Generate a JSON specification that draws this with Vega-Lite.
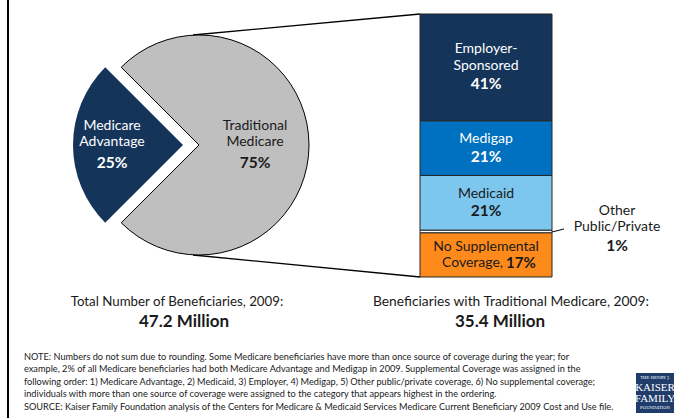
{
  "$schema": "https://vega.github.io/schema/vega-lite/v6.json",
  "width": 681,
  "height": 418,
  "padding": 0,
  "autosize": {"type": "none"},
  "background": "white",
  "config": {"view": {"stroke": null}, "font": "Lato", "text": {"font": "Lato"}},
  "data": {"values": [{}]},
  "datasets": {
    "pie": [
      {"category": "Traditional Medicare", "pct": 75, "order": 1, "line1": "Traditional", "line2": "Medicare", "pctText": "75%"},
      {"category": "Medicare Advantage", "pct": 25, "order": 2, "line1": "Medicare", "line2": "Advantage", "pctText": "25%"}
    ],
    "bar": [
      {"category": "No Supplemental Coverage", "pct": 17, "order": 1, "line1": "No Supplemental", "line2": "Coverage,", "pctText": "17%"},
      {"category": "Other Public/Private", "pct": 1, "order": 2, "line1": "Other", "line2": "Public/Private", "pctText": "1%"},
      {"category": "Medicaid", "pct": 21, "order": 3, "line1": "Medicaid", "line2": "", "pctText": "21%"},
      {"category": "Medigap", "pct": 21, "order": 4, "line1": "Medigap", "line2": "", "pctText": "21%"},
      {"category": "Employer-Sponsored", "pct": 41, "order": 5, "line1": "Employer-", "line2": "Sponsored", "pctText": "41%"}
    ]
  },
  "layer": [
    {
      "mark": {"type": "rule", "color": "#000000", "strokeWidth": 2},
      "encoding": {"x": {"datum": 8, "type": "quantitative", "scale": {"domain": [0, 681], "nice": false, "zero": false}, "axis": null}}
    },
    {
      "mark": {"type": "rule", "color": "#000000", "strokeWidth": 1.3},
      "encoding": {
        "x": {"datum": 193, "type": "quantitative", "scale": {"domain": [0, 681], "nice": false, "zero": false}, "axis": null},
        "y": {"datum": 92.93, "type": "quantitative", "scale": {"domain": [-54.15, 106.37], "nice": false, "zero": false}, "axis": null},
        "x2": {"datum": 420},
        "y2": {"datum": 101}
      }
    },
    {
      "mark": {"type": "rule", "color": "#000000", "strokeWidth": 1.3},
      "encoding": {
        "x": {"datum": 193, "type": "quantitative", "scale": {"domain": [0, 681], "nice": false, "zero": false}, "axis": null},
        "y": {"datum": 8.45, "type": "quantitative", "scale": {"domain": [-54.15, 106.37], "nice": false, "zero": false}, "axis": null},
        "x2": {"datum": 420},
        "y2": {"datum": 0}
      }
    },
    {
      "data": {"name": "pie"},
      "transform": [
        {"stack": "pct", "groupby": [], "sort": [{"field": "order", "order": "ascending"}], "as": ["t0", "t1"]},
        {"filter": "datum.category === 'Traditional Medicare'"}
      ],
      "mark": {"type": "arc", "outerRadius": 110, "fill": "#BFBFBF", "stroke": "#000000", "strokeWidth": 1},
      "encoding": {
        "x": {"datum": 199, "type": "quantitative", "scale": {"domain": [0, 681], "nice": false, "zero": false}, "axis": null},
        "y": {"datum": 50.69, "type": "quantitative", "scale": {"domain": [-54.15, 106.37], "nice": false, "zero": false}, "axis": null},
        "theta": {"field": "t0", "type": "quantitative", "scale": {"domain": [0, 100], "range": [-0.7854, 5.4978]}},
        "theta2": {"field": "t1"}
      }
    },
    {
      "data": {"name": "pie"},
      "transform": [
        {"stack": "pct", "groupby": [], "sort": [{"field": "order", "order": "ascending"}], "as": ["t0", "t1"]},
        {"filter": "datum.category === 'Medicare Advantage'"}
      ],
      "mark": {"type": "arc", "outerRadius": 110, "fill": "#14345A"},
      "encoding": {
        "x": {"datum": 183, "type": "quantitative", "scale": {"domain": [0, 681], "nice": false, "zero": false}, "axis": null},
        "y": {"datum": 50.69, "type": "quantitative", "scale": {"domain": [-54.15, 106.37], "nice": false, "zero": false}, "axis": null},
        "theta": {"field": "t0", "type": "quantitative", "scale": {"domain": [0, 100], "range": [-0.7854, 5.4978]}},
        "theta2": {"field": "t1"}
      }
    },
    {
      "data": {"name": "bar"},
      "transform": [
        {"stack": "pct", "groupby": [], "sort": [{"field": "order", "order": "ascending"}], "as": ["s0", "s1"]}
      ],
      "mark": {"type": "bar", "stroke": "#262626", "strokeWidth": 1},
      "encoding": {
        "x": {"datum": 420, "type": "quantitative", "scale": {"domain": [0, 681], "nice": false, "zero": false}, "axis": null},
        "x2": {"datum": 552},
        "y": {"field": "s0", "type": "quantitative", "scale": {"domain": [-54.15, 106.37], "nice": false, "zero": false}, "axis": null},
        "y2": {"field": "s1"},
        "color": {
          "field": "category", "type": "nominal", "legend": null,
          "scale": {
            "domain": ["Employer-Sponsored", "Medigap", "Medicaid", "Other Public/Private", "No Supplemental Coverage"],
            "range": ["#14345A", "#0070C0", "#7DC7EE", "#FFFFFF", "#FF8A1C"]
          }
        }
      }
    },
    {
      "data": {"name": "bar"},
      "transform": [
        {"stack": "pct", "groupby": [], "sort": [{"field": "order", "order": "ascending"}], "as": ["s0", "s1"]},
        {"fold": ["s0", "s1"], "as": ["edge", "edgeValue"]},
        {"aggregate": [{"op": "mean", "field": "edgeValue", "as": "mid"}], "groupby": ["category", "line1", "line2", "pctText"]}
      ],
      "layer": [
        {
          "transform": [{"filter": "datum.category === 'Employer-Sponsored'"}],
          "mark": {"type": "text", "fontSize": 14, "align": "center", "baseline": "middle", "dy": -18, "fill": "#FFFFFF"},
          "encoding": {"text": {"field": "line1", "type": "nominal"}}
        },
        {
          "transform": [{"filter": "datum.category === 'Employer-Sponsored'"}],
          "mark": {"type": "text", "fontSize": 14, "align": "center", "baseline": "middle", "dy": -1.5, "fill": "#FFFFFF"},
          "encoding": {"text": {"field": "line2", "type": "nominal"}}
        },
        {
          "transform": [{"filter": "datum.category === 'Employer-Sponsored'"}],
          "mark": {"type": "text", "fontSize": 15.5, "fontWeight": "bold", "align": "center", "baseline": "middle", "dy": 16.5, "fill": "#FFFFFF"},
          "encoding": {"text": {"field": "pctText", "type": "nominal"}}
        },
        {
          "transform": [{"filter": "datum.category === 'Medigap'"}],
          "mark": {"type": "text", "fontSize": 14, "align": "center", "baseline": "middle", "dy": -9, "fill": "#FFFFFF"},
          "encoding": {"text": {"field": "line1", "type": "nominal"}}
        },
        {
          "transform": [{"filter": "datum.category === 'Medigap'"}],
          "mark": {"type": "text", "fontSize": 15.5, "fontWeight": "bold", "align": "center", "baseline": "middle", "dy": 9, "fill": "#FFFFFF"},
          "encoding": {"text": {"field": "pctText", "type": "nominal"}}
        },
        {
          "transform": [{"filter": "datum.category === 'Medicaid'"}],
          "mark": {"type": "text", "fontSize": 14, "align": "center", "baseline": "middle", "dy": -8.5, "fill": "#1A1A1A"},
          "encoding": {"text": {"field": "line1", "type": "nominal"}}
        },
        {
          "transform": [{"filter": "datum.category === 'Medicaid'"}],
          "mark": {"type": "text", "fontSize": 15.5, "fontWeight": "bold", "align": "center", "baseline": "middle", "dy": 8.5, "fill": "#1A1A1A"},
          "encoding": {"text": {"field": "pctText", "type": "nominal"}}
        },
        {
          "transform": [{"filter": "datum.category === 'No Supplemental Coverage'"}],
          "mark": {"type": "text", "fontSize": 14, "align": "center", "baseline": "middle", "dy": -8, "fill": "#1A1A1A"},
          "encoding": {"text": {"field": "line1", "type": "nominal"}}
        },
        {
          "transform": [{"filter": "datum.category === 'No Supplemental Coverage'"}],
          "mark": {"type": "text", "fontSize": 14, "align": "right", "baseline": "middle", "dy": 8.5, "dx": 17, "fill": "#1A1A1A"},
          "encoding": {"text": {"field": "line2", "type": "nominal"}}
        },
        {
          "transform": [{"filter": "datum.category === 'No Supplemental Coverage'"}],
          "mark": {"type": "text", "fontSize": 15, "fontWeight": "bold", "align": "left", "baseline": "middle", "dy": 8.5, "dx": 20, "fill": "#1A1A1A"},
          "encoding": {"text": {"field": "pctText", "type": "nominal"}}
        }
      ],
      "encoding": {
        "x": {"datum": 486, "type": "quantitative", "scale": {"domain": [0, 681], "nice": false, "zero": false}, "axis": null},
        "y": {"field": "mid", "type": "quantitative", "scale": {"domain": [-54.15, 106.37], "nice": false, "zero": false}, "axis": null}
      }
    },
    {
      "mark": {"type": "rule", "color": "#000000", "strokeWidth": 1},
      "encoding": {
        "x": {"datum": 552, "type": "quantitative", "scale": {"domain": [0, 681], "nice": false, "zero": false}, "axis": null},
        "y": {"datum": 17.28, "type": "quantitative", "scale": {"domain": [-54.15, 106.37], "nice": false, "zero": false}, "axis": null},
        "x2": {"datum": 564},
        "y2": {"datum": 18.43}
      }
    },
    {
      "data": {"name": "bar"},
      "transform": [{"filter": "datum.category === 'Other Public/Private'"}],
      "layer": [
        {
          "mark": {"type": "text", "fontSize": 14, "align": "center", "baseline": "middle", "fill": "#1A1A1A"},
          "encoding": {
            "y": {"datum": 25.35, "type": "quantitative", "scale": {"domain": [-54.15, 106.37], "nice": false, "zero": false}, "axis": null},
            "text": {"field": "line1", "type": "nominal"}
          }
        },
        {
          "mark": {"type": "text", "fontSize": 14, "align": "center", "baseline": "middle", "fill": "#1A1A1A"},
          "encoding": {
            "y": {"datum": 19.01, "type": "quantitative", "scale": {"domain": [-54.15, 106.37], "nice": false, "zero": false}, "axis": null},
            "text": {"field": "line2", "type": "nominal"}
          }
        },
        {
          "mark": {"type": "text", "fontSize": 15.5, "fontWeight": "bold", "align": "center", "baseline": "middle", "fill": "#1A1A1A"},
          "encoding": {
            "y": {"datum": 11.9, "type": "quantitative", "scale": {"domain": [-54.15, 106.37], "nice": false, "zero": false}, "axis": null},
            "text": {"field": "pctText", "type": "nominal"}
          }
        }
      ],
      "encoding": {
        "x": {"datum": 617, "type": "quantitative", "scale": {"domain": [0, 681], "nice": false, "zero": false}, "axis": null}
      }
    },
    {
      "data": {"name": "pie"},
      "transform": [{"filter": "datum.category === 'Medicare Advantage'"}],
      "layer": [
        {
          "mark": {"type": "text", "fontSize": 14, "align": "center", "baseline": "middle", "fill": "#FFFFFF"},
          "encoding": {
            "y": {"datum": 58.0, "type": "quantitative", "scale": {"domain": [-54.15, 106.37], "nice": false, "zero": false}, "axis": null},
            "text": {"field": "line1", "type": "nominal"}
          }
        },
        {
          "mark": {"type": "text", "fontSize": 14, "align": "center", "baseline": "middle", "fill": "#FFFFFF"},
          "encoding": {
            "y": {"datum": 51.65, "type": "quantitative", "scale": {"domain": [-54.15, 106.37], "nice": false, "zero": false}, "axis": null},
            "text": {"field": "line2", "type": "nominal"}
          }
        },
        {
          "mark": {"type": "text", "fontSize": 15.5, "fontWeight": "bold", "align": "center", "baseline": "middle", "fill": "#FFFFFF"},
          "encoding": {
            "y": {"datum": 43.78, "type": "quantitative", "scale": {"domain": [-54.15, 106.37], "nice": false, "zero": false}, "axis": null},
            "text": {"field": "pctText", "type": "nominal"}
          }
        }
      ],
      "encoding": {
        "x": {"datum": 112, "type": "quantitative", "scale": {"domain": [0, 681], "nice": false, "zero": false}, "axis": null}
      }
    },
    {
      "data": {"name": "pie"},
      "transform": [{"filter": "datum.category === 'Traditional Medicare'"}],
      "layer": [
        {
          "mark": {"type": "text", "fontSize": 14, "align": "center", "baseline": "middle", "fill": "#1A1A1A"},
          "encoding": {
            "y": {"datum": 58.0, "type": "quantitative", "scale": {"domain": [-54.15, 106.37], "nice": false, "zero": false}, "axis": null},
            "text": {"field": "line1", "type": "nominal"}
          }
        },
        {
          "mark": {"type": "text", "fontSize": 14, "align": "center", "baseline": "middle", "fill": "#1A1A1A"},
          "encoding": {
            "y": {"datum": 51.65, "type": "quantitative", "scale": {"domain": [-54.15, 106.37], "nice": false, "zero": false}, "axis": null},
            "text": {"field": "line2", "type": "nominal"}
          }
        },
        {
          "mark": {"type": "text", "fontSize": 15.5, "fontWeight": "bold", "align": "center", "baseline": "middle", "fill": "#1A1A1A"},
          "encoding": {
            "y": {"datum": 43.78, "type": "quantitative", "scale": {"domain": [-54.15, 106.37], "nice": false, "zero": false}, "axis": null},
            "text": {"field": "pctText", "type": "nominal"}
          }
        }
      ],
      "encoding": {
        "x": {"datum": 255, "type": "quantitative", "scale": {"domain": [0, 681], "nice": false, "zero": false}, "axis": null}
      }
    },
    {
      "mark": {"type": "text", "text": "Total Number of Beneficiaries, 2009:", "fontSize": 13.3, "align": "center", "baseline": "middle", "fill": "#1A1A1A"},
      "encoding": {
        "x": {"datum": 177, "type": "quantitative", "scale": {"domain": [0, 681], "nice": false, "zero": false}, "axis": null},
        "y": {"datum": -9.6, "type": "quantitative", "scale": {"domain": [-54.15, 106.37], "nice": false, "zero": false}, "axis": null}
      }
    },
    {
      "mark": {"type": "text", "text": "47.2 Million", "fontSize": 17, "fontWeight": "bold", "align": "center", "baseline": "middle", "fill": "#1A1A1A"},
      "encoding": {
        "x": {"datum": 184, "type": "quantitative", "scale": {"domain": [0, 681], "nice": false, "zero": false}, "axis": null},
        "y": {"datum": -17.28, "type": "quantitative", "scale": {"domain": [-54.15, 106.37], "nice": false, "zero": false}, "axis": null}
      }
    },
    {
      "mark": {"type": "text", "text": "Beneficiaries with Traditional Medicare, 2009:", "fontSize": 13.8, "align": "center", "baseline": "middle", "fill": "#1A1A1A"},
      "encoding": {
        "x": {"datum": 511, "type": "quantitative", "scale": {"domain": [0, 681], "nice": false, "zero": false}, "axis": null},
        "y": {"datum": -9.6, "type": "quantitative", "scale": {"domain": [-54.15, 106.37], "nice": false, "zero": false}, "axis": null}
      }
    },
    {
      "mark": {"type": "text", "text": "35.4 Million", "fontSize": 17, "fontWeight": "bold", "align": "center", "baseline": "middle", "fill": "#1A1A1A"},
      "encoding": {
        "x": {"datum": 500, "type": "quantitative", "scale": {"domain": [0, 681], "nice": false, "zero": false}, "axis": null},
        "y": {"datum": -17.28, "type": "quantitative", "scale": {"domain": [-54.15, 106.37], "nice": false, "zero": false}, "axis": null}
      }
    },
    {
      "mark": {
        "type": "text",
        "text": "NOTE: Numbers do not sum due to rounding.  Some Medicare beneficiaries  have more than once source of coverage  during the year;  for\nexample, 2% of all Medicare beneficiaries had both Medicare  Advantage  and Medigap  in 2009.  Supplemental Coverage was assigned in the\nfollowing order: 1) Medicare  Advantage,  2) Medicaid, 3) Employer, 4) Medigap,  5) Other public/private coverage,  6) No supplemental coverage;\nindividuals with more than one source of coverage  were  assigned to the category  that appears  highest  in the ordering.\nSOURCE: Kaiser Family Foundation analysis of the Centers for Medicare  & Medicaid Services  Medicare  Current Beneficiary  2009 Cost and Use file.",
        "lineBreak": "\n", "fontSize": 9.2, "lineHeight": 12.4, "align": "left", "baseline": "middle", "fill": "#1A1A1A"
      },
      "encoding": {
        "x": {"datum": 24, "type": "quantitative", "scale": {"domain": [0, 681], "nice": false, "zero": false}, "axis": null},
        "y": {"datum": -30.72, "type": "quantitative", "scale": {"domain": [-54.15, 106.37], "nice": false, "zero": false}, "axis": null}
      }
    },
    {
      "mark": {"type": "rect", "fill": "#1F3C6B"},
      "encoding": {
        "x": {"datum": 636, "type": "quantitative", "scale": {"domain": [0, 681], "nice": false, "zero": false}, "axis": null},
        "x2": {"datum": 674},
        "y": {"datum": -36.87, "type": "quantitative", "scale": {"domain": [-54.15, 106.37], "nice": false, "zero": false}, "axis": null},
        "y2": {"datum": -52.23}
      }
    },
    {
      "mark": {"type": "text", "text": "THE HENRY J.", "font": "DejaVu Serif", "fontSize": 4, "align": "center", "baseline": "middle", "fill": "#FFFFFF"},
      "encoding": {
        "x": {"datum": 655, "type": "quantitative", "scale": {"domain": [0, 681], "nice": false, "zero": false}, "axis": null},
        "y": {"datum": -38.98, "type": "quantitative", "scale": {"domain": [-54.15, 106.37], "nice": false, "zero": false}, "axis": null}
      }
    },
    {
      "mark": {"type": "text", "text": "KAISER", "font": "Liberation Serif", "fontSize": 11, "align": "center", "baseline": "middle", "fill": "#FFFFFF"},
      "encoding": {
        "x": {"datum": 655, "type": "quantitative", "scale": {"domain": [0, 681], "nice": false, "zero": false}, "axis": null},
        "y": {"datum": -42.63, "type": "quantitative", "scale": {"domain": [-54.15, 106.37], "nice": false, "zero": false}, "axis": null}
      }
    },
    {
      "mark": {"type": "text", "text": "FAMILY", "font": "Liberation Serif", "fontSize": 11, "align": "center", "baseline": "middle", "fill": "#FFFFFF"},
      "encoding": {
        "x": {"datum": 655, "type": "quantitative", "scale": {"domain": [0, 681], "nice": false, "zero": false}, "axis": null},
        "y": {"datum": -46.85, "type": "quantitative", "scale": {"domain": [-54.15, 106.37], "nice": false, "zero": false}, "axis": null}
      }
    },
    {
      "mark": {"type": "text", "text": "FOUNDATION", "font": "DejaVu Serif", "fontSize": 4, "align": "center", "baseline": "middle", "fill": "#FFFFFF"},
      "encoding": {
        "x": {"datum": 655, "type": "quantitative", "scale": {"domain": [0, 681], "nice": false, "zero": false}, "axis": null},
        "y": {"datum": -50.5, "type": "quantitative", "scale": {"domain": [-54.15, 106.37], "nice": false, "zero": false}, "axis": null}
      }
    }
  ]
}
